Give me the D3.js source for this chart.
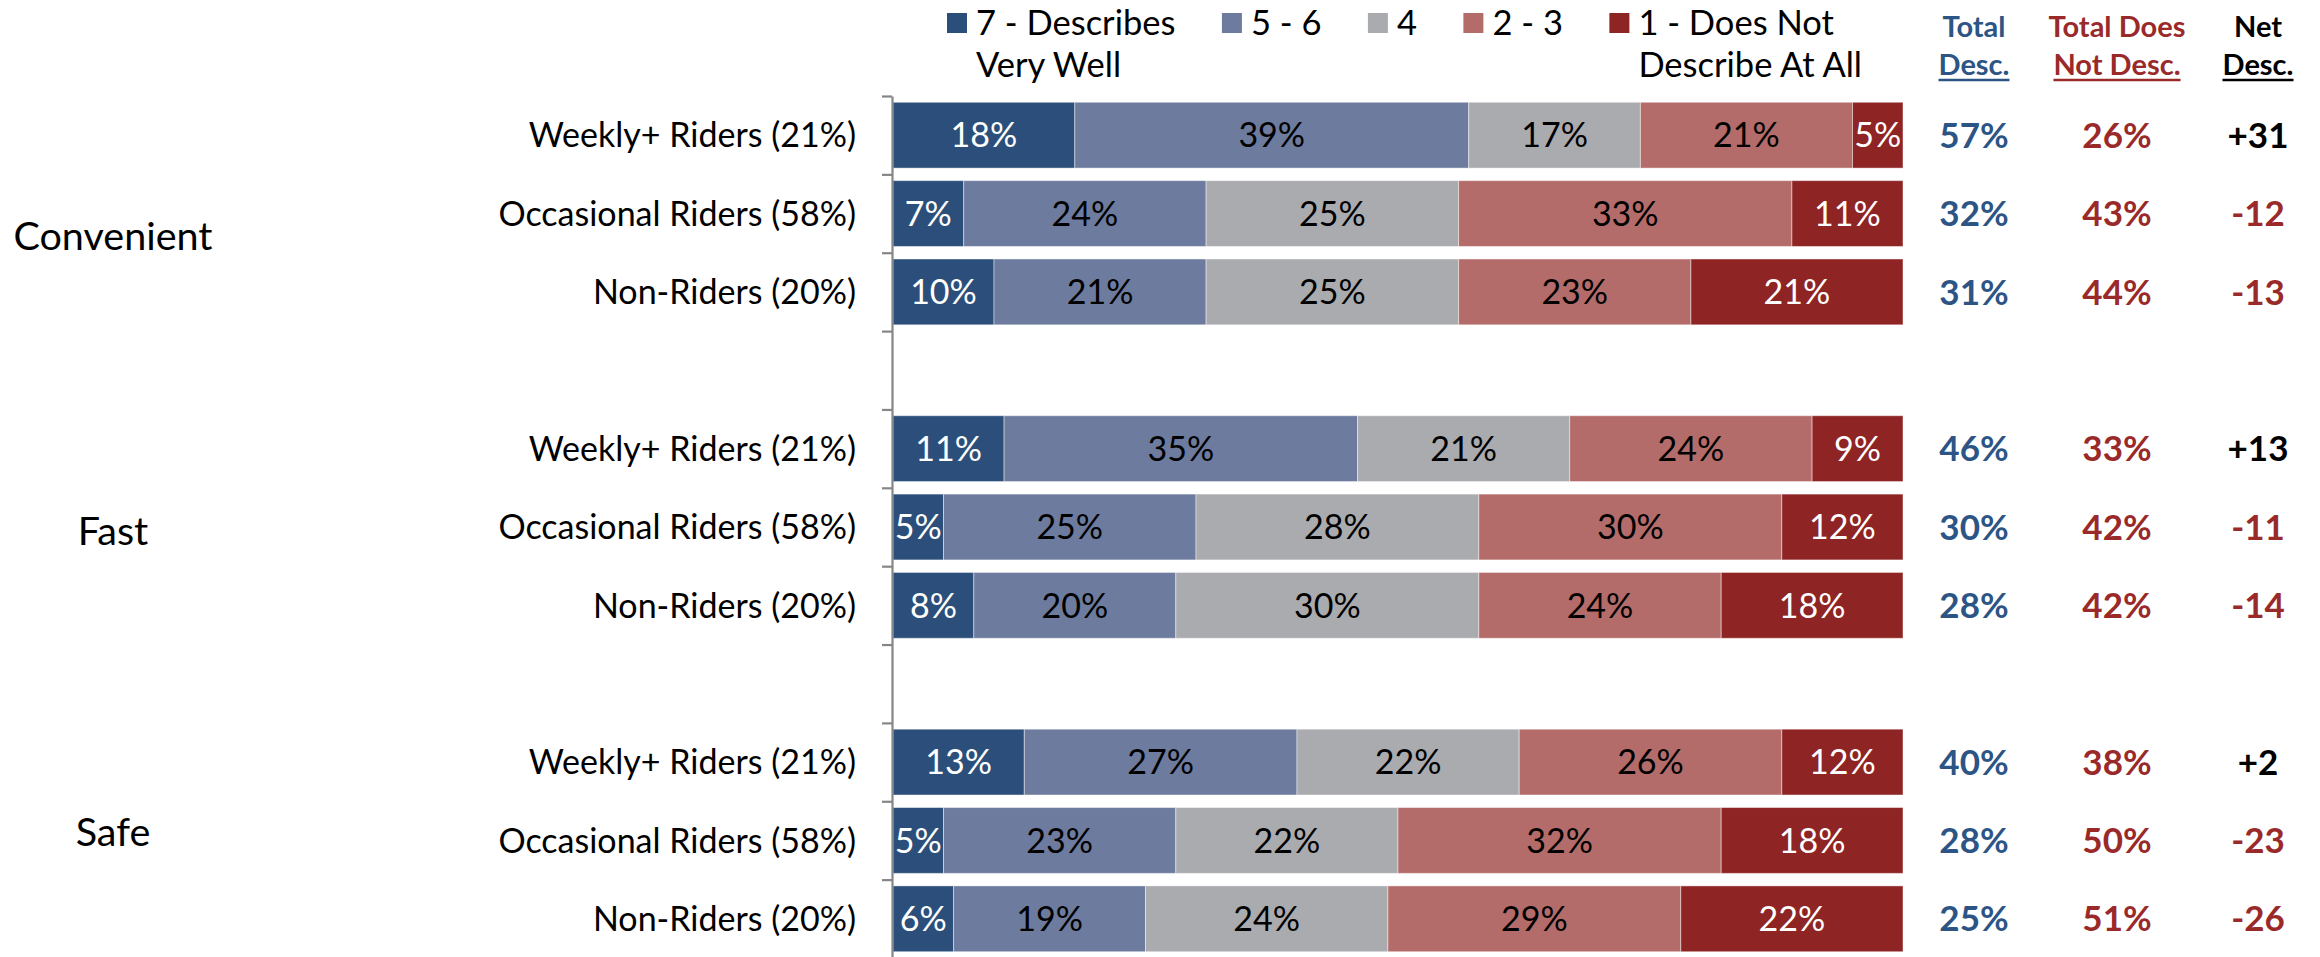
<!DOCTYPE html>
<html>
<head>
<meta charset="utf-8">
<script src="https://cdn.jsdelivr.net/npm/d3@7"></script>
<style>
  html, body { margin: 0; padding: 0; background: #ffffff; }
  svg { display: block; }
  text { font-family: "Lato", "Open Sans", sans-serif; }
</style>
</head>
<body>
<svg id="chart" width="2320" height="957"></svg>
<script>
// ---------------- data ----------------
const groups = ["Convenient", "Fast", "Safe"];
const segments = ["Weekly+ Riders (21%)", "Occasional Riders (58%)", "Non-Riders (20%)"];
const seriesKeys = ["s7", "s56", "s4", "s23", "s1"];
const legendLine1 = ["7 - Describes", "5 - 6", "4", "2 - 3", "1 - Does Not"];
const legendLine2 = ["Very Well", "", "", "", "Describe At All"];
// values per row: Convenient (Weekly, Occasional, Non), Fast (...), Safe (...)
const s7  = [18, 7, 10, 11, 5, 8, 13, 5, 6];
const s56 = [39, 24, 21, 35, 25, 20, 27, 23, 19];
const s4  = [17, 25, 25, 21, 28, 30, 22, 22, 24];
const s23 = [21, 33, 23, 24, 30, 24, 26, 32, 29];
const s1  = [5, 11, 21, 9, 12, 18, 12, 18, 22];
const totalDesc = [57, 32, 31, 46, 30, 28, 40, 28, 25];
const totalNotDesc = [26, 43, 44, 33, 42, 42, 38, 50, 51];
const netDesc = [31, -12, -13, 13, -11, -14, 2, -23, -26];
const colHeaders1 = ["Total", "Total Does", "Net"];
const colHeaders2 = ["Desc.", "Not Desc.", "Desc."];

// ---------------- styles / layout ----------------
const colors = { s7: "#2b4f7a", s56: "#6d7b9e", s4: "#aaabaf", s23: "#b36c69", s1: "#8e2423" };
const labelColor = { s7: "#ffffff", s56: "#000000", s4: "#000000", s23: "#000000", s1: "#ffffff" };
const BLUE = "#2c5585", RED = "#9a2a2a";
const plotLeft = 893, plotRight = 1903, plotTop = 96, plotBottom = 958;
const axisX = 892;
const colX = [1974, 2117, 2258];
const groupLabelX = 113;
const groupLabelY = [236, 531, 832];

const svg = d3.select("#chart");

// build rows (with empty gap slots between groups)
const slots = [];
const rows = [];
let r = 0;
groups.forEach((g, gi) => {
  segments.forEach((s, si) => {
    const key = g + "|" + s;
    slots.push(key);
    rows.push({ key, group: g, seg: s, idx: r });
    r++;
  });
  if (gi < groups.length - 1) slots.push("gap" + gi);
});
const vals = { s7, s56, s4, s23, s1 };

const x = d3.scaleLinear().domain([0, 100]).range([plotLeft, plotRight]);
const y = d3.scaleBand().domain(slots).range([plotTop, plotBottom]).paddingInner(0.16).paddingOuter(0.08);
const slotIdx = d3.scaleLinear().domain([0, slots.length]).range([plotTop, plotBottom]);

const stackData = rows.map(row => {
  const o = { key: row.key };
  seriesKeys.forEach(k => o[k] = vals[k][row.idx]);
  return o;
});
const stacked = d3.stack().keys(seriesKeys)(stackData);

// bars
const layers = svg.append("g").selectAll("g").data(stacked).join("g")
  .attr("fill", d => colors[d.key]);
layers.selectAll("rect").data(d => d.map(p => ({ p, key: d.key }))).join("rect")
  .attr("x", d => x(d.p[0]))
  .attr("width", d => x(d.p[1]) - x(d.p[0]))
  .attr("y", d => y(d.p.data.key))
  .attr("height", y.bandwidth())
  .attr("stroke", "rgba(255,255,255,0.45)")
  .attr("stroke-width", 1);

// bar labels
layers.selectAll("text").data(d => d.map(p => ({ p, key: d.key }))).join("text")
  .attr("x", d => (x(d.p[0]) + x(d.p[1])) / 2)
  .attr("y", d => y(d.p.data.key) + y.bandwidth() / 2)
  .attr("dy", "0.36em")
  .attr("text-anchor", "middle")
  .attr("font-size", 34)
  .attr("fill", d => labelColor[d.key])
  .text(d => (d.p[1] - d.p[0]) + "%");

// axis with ticks at slot boundaries
const axis = d3.axisLeft(slotIdx).tickValues(d3.range(0, slots.length + 1)).tickFormat("").tickSize(10).tickSizeOuter(0);
const axG = svg.append("g").attr("transform", `translate(${axisX},0)`).call(axis);
axG.select(".domain").attr("stroke", "#868686").attr("stroke-width", 2.2);
axG.selectAll(".tick line").attr("stroke", "#868686").attr("stroke-width", 2.2);

// row labels
svg.append("g").selectAll("text").data(rows).join("text")
  .attr("x", 856)
  .attr("y", d => y(d.key) + y.bandwidth() / 2)
  .attr("dy", "0.36em")
  .attr("text-anchor", "end")
  .attr("font-size", 34)
  .attr("fill", "#000")
  .text(d => d.seg);

// group labels
svg.append("g").selectAll("text").data(groups).join("text")
  .attr("x", groupLabelX)
  .attr("y", (d, i) => groupLabelY[i])
  .attr("dy", "0.36em")
  .attr("text-anchor", "middle")
  .attr("font-size", 39.5)
  .attr("fill", "#000")
  .text(d => d);

// right-hand columns
const colValues = [
  totalDesc.map(v => ({ t: v + "%", c: BLUE })),
  totalNotDesc.map(v => ({ t: v + "%", c: RED })),
  netDesc.map(v => ({ t: (v > 0 ? "+" : "") + v, c: v > 0 ? "#000000" : RED }))
];
const colColors = [BLUE, RED, "#000000"];
colValues.forEach((col, ci) => {
  svg.append("g").selectAll("text").data(rows).join("text")
    .attr("x", colX[ci])
    .attr("y", d => y(d.key) + y.bandwidth() / 2)
    .attr("dy", "0.36em")
    .attr("text-anchor", "middle")
    .attr("font-size", 35)
    .attr("font-weight", "bold")
    .attr("fill", d => col[d.idx].c)
    .text(d => col[d.idx].t);
  const h = svg.append("g").attr("fill", colColors[ci]).attr("font-weight", "bold").attr("font-size", 29).attr("text-anchor", "middle");
  h.append("text").attr("x", colX[ci]).attr("y", 37).text(colHeaders1[ci]);
  const t2 = h.append("text").attr("x", colX[ci]).attr("y", 75).text(colHeaders2[ci]);
  const w = t2.node().getComputedTextLength();
  svg.append("line").attr("x1", colX[ci] - w / 2).attr("x2", colX[ci] + w / 2)
    .attr("y1", 80).attr("y2", 80).attr("stroke", colColors[ci]).attr("stroke-width", 2.5);
});

// legend
const legStart = 947, legEnd = 1862, sq = 20, sqGap = 9;
const legG = svg.append("g");
const items = seriesKeys.map((k, i) => {
  const g = legG.append("g");
  g.append("rect").attr("width", sq).attr("height", sq).attr("y", 13).attr("fill", colors[k]);
  const t1 = g.append("text").attr("x", sq + sqGap).attr("y", 35).attr("font-size", 34.5).attr("fill", "#000").text(legendLine1[i]);
  const t2 = g.append("text").attr("x", sq + sqGap).attr("y", 77).attr("font-size", 34.5).attr("fill", "#000").text(legendLine2[i]);
  const w = sq + sqGap + t1.node().getComputedTextLength();
  const w2 = sq + sqGap + t2.node().getComputedTextLength();
  return { g, w, w2 };
});
const totalW = d3.sum(items.slice(0, -1), d => d.w) + Math.max(items[items.length - 1].w, items[items.length - 1].w2);
const gap = (legEnd - legStart - totalW) / (items.length - 1);
let cx = legStart;
items.forEach(it => { it.g.attr("transform", `translate(${cx},0)`); cx += it.w + gap; });
</script>
</body>
</html>
